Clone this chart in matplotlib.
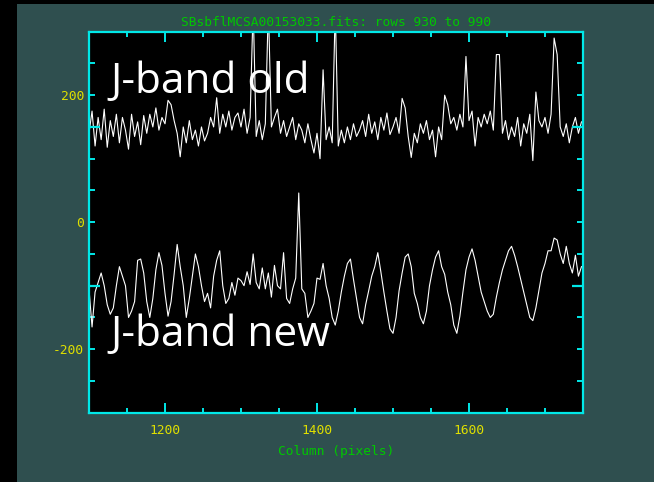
import matplotlib
matplotlib.use("Agg")
import matplotlib.pyplot as plt
import numpy as np

plt.rcParams["axes.unicode_minus"] = False

# columns sampled every 4 pixels-of-detector
col_start, col_stop, col_step = 1100, 1752, 4

# J-band old trace (counts)
old_vals = [
    140, 175, 120, 165, 130, 178, 118, 160, 135, 170,
    125, 165, 145, 115, 170, 135, 158, 122, 168, 140,
    170, 150, 180, 145, 165, 155, 192, 185, 160, 140,
    103, 150, 125, 160, 130, 145, 120, 150, 128, 140,
    165, 150, 196, 140, 170, 150, 175, 145, 165, 172,
    150, 178, 140, 165, 340, 135, 160, 130, 155, 340,
    150, 165, 178, 140, 160, 135, 150, 165, 130, 155,
    145, 125, 155, 130, 109, 140, 100, 240, 130, 150,
    125, 340, 120, 145, 125, 150, 130, 155, 135, 145,
    160, 135, 170, 140, 158, 130, 165, 145, 172, 138,
    150, 165, 140, 195, 180, 135, 102, 140, 125, 155,
    140, 160, 130, 145, 103, 150, 130, 200, 185, 155,
    165, 145, 170, 150, 261, 160, 175, 120, 165, 150,
    170, 155, 175, 145, 264, 264, 140, 160, 130, 150,
    135, 165, 120, 155, 140, 170, 97, 205, 160, 150,
    165, 140, 170, 290, 264, 150, 135, 155, 125, 150,
    165, 140, 158,
]

# J-band new trace (counts)
new_vals = [
    -105, -165, -110, -95, -80, -100, -130, -145, -135, -100,
    -70, -85, -100, -150, -140, -125, -60, -58, -80, -125,
    -150, -120, -75, -48, -68, -112, -148, -125, -82, -35,
    -70, -100, -150, -120, -85, -50, -70, -100, -125, -112,
    -135, -85, -60, -45, -100, -128, -120, -95, -115, -88,
    -92, -100, -78, -98, -50, -95, -105, -72, -105, -80,
    -118, -68, -100, -105, -48, -120, -128, -105, -88, 46,
    -105, -112, -150, -140, -128, -88, -90, -65, -100, -120,
    -150, -162, -140, -110, -85, -65, -58, -90, -120, -150,
    -160, -130, -108, -85, -70, -48, -78, -110, -140, -168,
    -175, -150, -108, -80, -55, -50, -70, -112, -128, -150,
    -160, -140, -100, -75, -55, -45, -70, -82, -110, -130,
    -162, -175, -148, -110, -75, -55, -42, -60, -85, -110,
    -125, -140, -150, -145, -118, -95, -75, -60, -45, -38,
    -52, -70, -90, -110, -130, -150, -155, -135, -108, -80,
    -65, -45, -45, -25, -28, -50, -65, -38, -65, -80,
    -52, -85, -70,
]

# level markers drawn on both y edges
offsets = [150, -100]

title = "SBsbflMCSA00153033.fits: rows 930 to 990"
xlabel = "Column (pixels)"
labels = ["J-band old", "J-band new"]

bg = "#2f4f4f"
cyan = "#00e8e8"
green = "#00c800"
yellow = "#e0e000"
mono = "DejaVu Sans Mono"

cols = np.arange(col_start, col_stop, col_step)

fig = plt.figure(figsize=(6.54, 4.82), dpi=100, facecolor="black")
fig.patches.append(plt.Rectangle((17 / 654, 0), 1, 1 - 4 / 482, transform=fig.transFigure,
                                 facecolor=bg, edgecolor="none", zorder=-10))

ax = fig.add_axes([89 / 654, 1 - 412.7 / 482, 494 / 654, 381 / 482])
ax.set_facecolor("black")

ax.plot(cols, old_vals, color="white", linewidth=0.8)
ax.plot(cols, new_vals, color="white", linewidth=0.8)

for off in offsets:
    ax.plot([0, 11 / 494], [off, off], color=cyan, linewidth=1.6,
            transform=ax.get_yaxis_transform(), solid_capstyle="butt")
    ax.plot([1 - 11 / 494, 1], [off, off], color=cyan, linewidth=1.6,
            transform=ax.get_yaxis_transform(), solid_capstyle="butt")

ax.set_xlim(1100, 1750)
ax.set_ylim(-300, 300)

ax.set_xticks([1200, 1400, 1600])
ax.set_xticks(np.arange(1150, 1750, 50), minor=True)
ax.set_yticks([-200, 0, 200])
ax.set_yticks(np.arange(-250, 300, 50), minor=True)

for s in ax.spines.values():
    s.set_color(cyan)
    s.set_linewidth(1.6)

ax.tick_params(axis="both", which="both", direction="in", color=cyan, width=1.4,
               top=True, right=True, labelcolor=yellow, labelsize=9.3)
ax.tick_params(axis="x", which="major", length=7.2, pad=8)
ax.tick_params(axis="x", which="minor", length=3.6)
ax.tick_params(axis="y", which="both", length=4.3, pad=3.5)

for t in ax.get_xticklabels() + ax.get_yticklabels():
    t.set_family(mono)

ax.set_title(title, color=green, fontsize=9.3, family=mono, pad=4)
ax.set_xlabel(xlabel, color=green, fontsize=9.3, family=mono, labelpad=6)

fig.text(110 / 654, 1 - 92.7 / 482, labels[0], color="white", fontsize=30.5,
         family="Open Sans", va="baseline", ha="left")
fig.text(110 / 654, 1 - 346 / 482, labels[1], color="white", fontsize=30.5,
         family="Open Sans", va="baseline", ha="left")

fig.savefig("out.png", dpi=100, facecolor=fig.get_facecolor())
